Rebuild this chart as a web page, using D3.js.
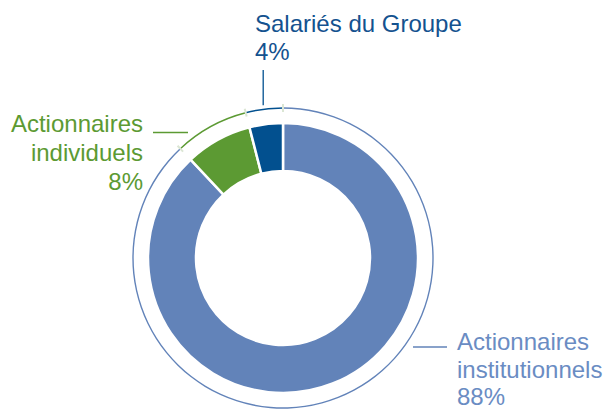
<!DOCTYPE html>
<html>
<head>
<meta charset="utf-8">
<script src="https://cdn.jsdelivr.net/npm/d3@7"></script>
<style>
  body { margin: 0; background: #fff; }
  text { font-family: "Liberation Sans", Arial, sans-serif; }
</style>
</head>
<body>
<div id="container"></div>
<script>
/* DATA */
const categories = ["Actionnaires institutionnels", "Actionnaires individuels", "Salariés du Groupe"]
const shares = [88, 8, 4]
const labelLines = [["Actionnaires", "institutionnels", "88%"], ["Actionnaires", "individuels", "8%"], ["Salariés du Groupe", "4%"]]

/* CONSTANTS */
const width = 609, height = 412
const cx = 283, cy = 258
const innerR = 87, outerR = 135, ringR = 150
const sliceColors = ["#6283b9", "#5c9a33", "#02508f"]
const textColors = ["#6a8cc3", "#5c9a33", "#14528f"]

const svg = d3.select("#container")
  .append("svg")
  .attr("width", width)
  .attr("height", height)

const g = svg.append("g").attr("transform", `translate(${cx},${cy})`)

const pie = d3.pie().sort(null).value(d => d)
const arcs = pie(shares)

const arc = d3.arc().innerRadius(innerR).outerRadius(outerR)

// slices
g.selectAll("path.slice")
  .data(arcs)
  .join("path")
  .attr("class", "slice")
  .attr("d", arc)
  .attr("fill", (d, i) => sliceColors[i])
  .attr("stroke", "#fff")
  .attr("stroke-width", 2.5)

// thin outer ring, one piece per slice
const ringArc = d3.arc().innerRadius(ringR - 0.7).outerRadius(ringR + 0.7)
g.selectAll("path.ring")
  .data(arcs)
  .join("path")
  .attr("class", "ring")
  .attr("d", ringArc)
  .attr("fill", (d, i) => sliceColors[i])

// small light ticks at the slice borders
g.selectAll("line.tick")
  .data(arcs)
  .join("line")
  .attr("class", "tick")
  .attr("x1", d => Math.sin(d.startAngle) * (ringR - 4))
  .attr("y1", d => -Math.cos(d.startAngle) * (ringR - 4))
  .attr("x2", d => Math.sin(d.startAngle) * (ringR + 4))
  .attr("y2", d => -Math.cos(d.startAngle) * (ringR + 4))
  .attr("stroke", "#dbe6d4")
  .attr("stroke-width", 2)

// labels
const labelPos = [
  { x: 457, y: 350, anchor: "start", lh: 27.5 },
  { x: 143, y: 132, anchor: "end", lh: 29 },
  { x: 255, y: 32, anchor: "start", lh: 28 }
]

labelLines.forEach((lines, i) => {
  const p = labelPos[i]
  const t = svg.append("text")
    .attr("x", p.x)
    .attr("y", p.y)
    .attr("text-anchor", p.anchor)
    .attr("fill", textColors[i])
    .attr("font-size", "24px")
  lines.forEach((s, j) => {
    t.append("tspan").attr("x", p.x).attr("y", p.y + j * p.lh).text(s)
  })
})

// leader lines
// salariés: vertical from the ring up to the label
const salMid = (arcs[2].startAngle + arcs[2].endAngle) / 2
const salX = cx + Math.sin(salMid) * ringR
svg.append("line")
  .attr("x1", salX - 1).attr("x2", salX - 1)
  .attr("y1", 70).attr("y2", cy - Math.cos(salMid) * ringR - 4)
  .attr("stroke", sliceColors[2]).attr("stroke-width", 1.3)

// individuels: short horizontal stroke after the first line
svg.append("line")
  .attr("x1", 153).attr("x2", 188)
  .attr("y1", 132.5).attr("y2", 132.5)
  .attr("stroke", sliceColors[1]).attr("stroke-width", 1.3)

// institutionnels
svg.append("line")
  .attr("x1", 413).attr("x2", 447)
  .attr("y1", 347).attr("y2", 347)
  .attr("stroke", sliceColors[0]).attr("stroke-width", 1.3)
</script>
</body>
</html>
